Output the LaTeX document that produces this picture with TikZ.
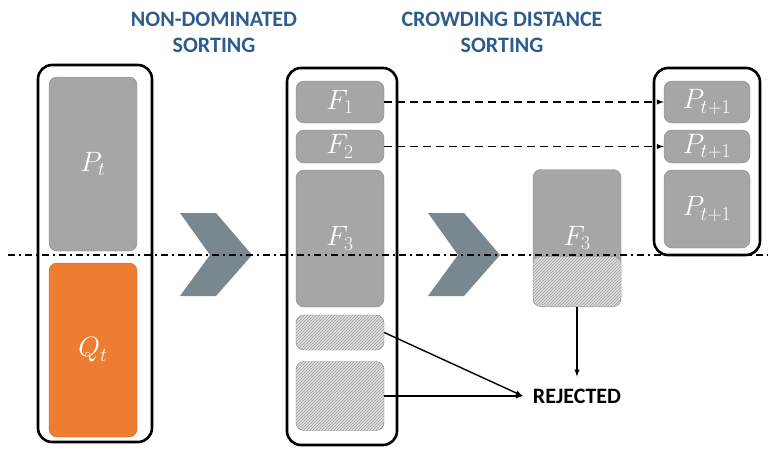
\RequirePackage{fix-cm}
\documentclass[tikz,border=0pt]{standalone}
\usepackage{fontspec}
\newfontfamily\headfont{Carlito}
\usetikzlibrary{patterns}

\definecolor{boxgray}{RGB}{166,166,166}
\definecolor{boxedge}{RGB}{135,135,135}
\definecolor{qorange}{RGB}{237,125,49}
\definecolor{orangeedge}{RGB}{205,105,40}
\definecolor{hatchbg}{RGB}{222,222,222}
\definecolor{hatchline}{RGB}{160,160,160}
\definecolor{titleblue}{RGB}{46,92,140}
\definecolor{chevgray}{RGB}{120,136,142}

\begin{document}
\begin{tikzpicture}[x=1pt, y=-1pt,
        outer/.style={rectangle, rounded corners=14pt, draw=black, line width=2.6pt, inner sep=0pt},
        graybox/.style={rectangle, rounded corners=8pt, draw=boxedge, fill=boxgray, text=white, inner sep=0pt, minimum width=88pt, font=\fontsize{28}{32}\selectfont},
        orangebox/.style={graybox, draw=orangeedge, fill=qorange},
        hatchbox/.style={rectangle, rounded corners=8pt, draw=boxedge, preaction={fill=hatchbg}, pattern=north east lines, pattern color=hatchline, text=white, inner sep=0pt, minimum width=88pt, font=\small},
        splitbox/.style={graybox, path picture={
            \fill[hatchbg] (path picture bounding box.south west) rectangle ([yshift=-19pt]path picture bounding box.east);
            \fill[pattern=north east lines, pattern color=hatchline] (path picture bounding box.south west) rectangle ([yshift=-19pt]path picture bounding box.east);
        }},
        heading/.style={font=\headfont\bfseries\fontsize{22}{26}\selectfont, text=titleblue, align=center},
        cutline/.style={line width=1.6pt, dash pattern=on 7pt off 4pt on 2pt off 4pt},
        >=latex
    ]
    \useasboundingbox (0,0) rectangle (768,452);

    % Headings
    \node[heading] (nds) at (214,32) {NON-DOMINATED\\SORTING};
    \node[heading] (cds) at (502,32) {CROWDING DISTANCE\\SORTING};

    % Left column - parents and offspring
    \node[outer, minimum width=114pt, minimum height=377pt] (popL) at (95,253.5) {};
    \node[graybox, minimum height=174pt] (Pt) at (93,164) {$P_t$};
    \node[orangebox, minimum height=174pt] (Qt) at (93,350) {$Q_t$};

    % Chevrons
    \foreach \dx in {0,248}
        \fill[chevgray, xshift=\dx] (180,213) -- (216,213) -- (252,255) -- (216,296) -- (180,296) -- (210,255) -- cycle;

    % Middle column - fronts
    \node[outer, minimum width=110pt, minimum height=377pt] (frontM) at (342,256.5) {};
    \node[graybox, minimum height=42pt] (F1) at (340,102) {$F_1$};
    \node[graybox, minimum height=33pt] (F2) at (340,146.5) {$F_2$};
    \node[graybox, minimum height=137pt] (F3) at (340,238.5) {$F_3$};
    \node[hatchbox, minimum height=35pt] (H1) at (340,332.5) {$\dots$};
    \node[hatchbox, minimum height=69pt] (H2) at (340,396) {$\dots$};

    % Last front, cut in two
    \node[splitbox, minimum height=137pt] (F3b) at (577,238) {$F_3$};

    % Right column - next population
    \node[outer, minimum width=106pt, minimum height=187pt] (popR) at (707,161.5) {};
    \node[graybox, minimum width=86pt, minimum height=42pt] (P1) at (707,102) {$P_{t+1}$};
    \node[graybox, minimum width=86pt, minimum height=33pt] (P2) at (707,146.5) {$P_{t+1}$};
    \node[graybox, minimum width=86pt, minimum height=78pt] (P3) at (707,209) {$P_{t+1}$};

    \node[font=\headfont\bfseries\fontsize{22}{26}\selectfont, inner xsep=10pt, inner ysep=12pt] (rej) at (577,396) {REJECTED};

    \draw[->, line width=1.4pt, dash pattern=on 8pt off 5pt] (F1) -- (P1);
    \draw[->, line width=1.4pt, dash pattern=on 8pt off 5pt] (F2) -- (P2);
    \draw[->, line width=1.4pt] (H1.east) -- (rej.west);
    \draw[->, line width=1.4pt] (H2.east) -- (rej.west);
    \draw[->, line width=1.4pt] (F3b.south) -- (rej.north);

    % Cut line
    \coordinate (cutL) at (8,255);
    \coordinate (cutR) at (768,255);
    \draw[cutline] (cutL) -- (cutR);
\end{tikzpicture}
\end{document}
